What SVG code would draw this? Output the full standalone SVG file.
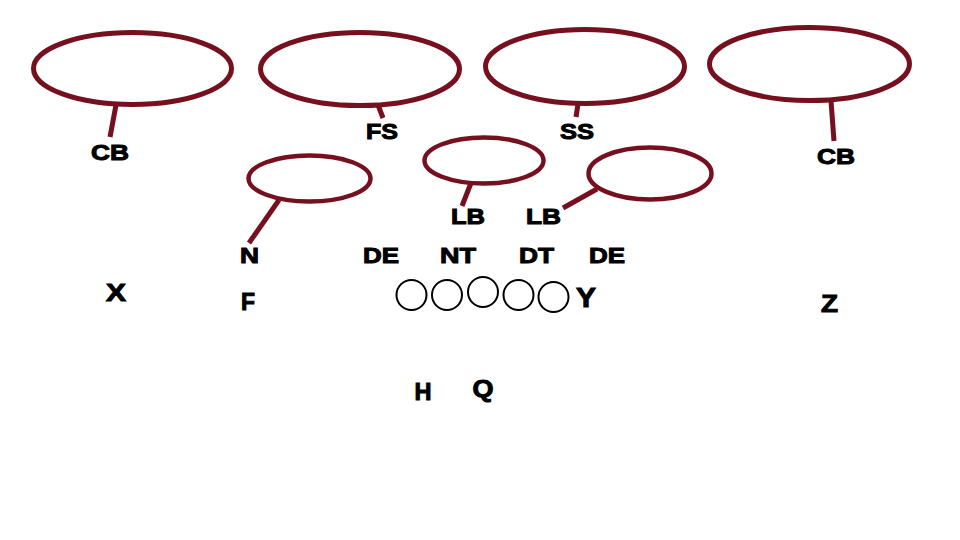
<svg xmlns="http://www.w3.org/2000/svg" width="960" height="540" viewBox="0 0 960 540">
<style>
.zone{fill:none;stroke:#76101f;stroke-width:5}
.zs{fill:none;stroke:#76101f;stroke-width:4.5}
.conn{stroke:#76101f;stroke-width:5;stroke-linecap:butt;fill:none}
.ol{fill:none;stroke:#000;stroke-width:2}
.t{font-family:"Liberation Sans",Arial,sans-serif;font-weight:bold;fill:#000;stroke:#000;stroke-width:1;text-anchor:middle}
.s21{font-size:22px}
.s23{font-size:24px}
.s28{font-size:28px}
</style>
<rect width="960" height="540" fill="#fff"/>
<g id="connectors">
<line class="conn" x1="116" y1="105" x2="110" y2="137"/>
<line class="conn" x1="378" y1="105" x2="383" y2="118"/>
<line class="conn" x1="578" y1="104" x2="576" y2="117"/>
<line class="conn" x1="831" y1="101" x2="834" y2="141"/>
<line class="conn" x1="279" y1="200" x2="249" y2="243"/>
<line class="conn" x1="471" y1="183" x2="462" y2="206"/>
<line class="conn" x1="597" y1="189" x2="563" y2="208"/>
</g>
<g id="zone-cb-left"><ellipse class="zone" cx="132.5" cy="68.5" rx="99" ry="36"/></g>
<g id="zone-fs"><ellipse class="zone" cx="360" cy="69" rx="99.5" ry="36.5"/></g>
<g id="zone-ss"><ellipse class="zone" cx="585" cy="66.5" rx="99.5" ry="37"/></g>
<g id="zone-cb-right"><ellipse class="zone" cx="809.5" cy="64" rx="100" ry="36.5"/></g>
<g id="zone-n"><ellipse class="zs" cx="309.5" cy="178.5" rx="61" ry="23"/></g>
<g id="zone-lb1"><ellipse class="zs" cx="484" cy="160.5" rx="59.5" ry="23"/></g>
<g id="zone-lb2"><ellipse class="zs" cx="650" cy="173.5" rx="61.5" ry="26"/></g>
<g id="cb-left"><text class="t s21" x="110" y="160" textLength="38" lengthAdjust="spacingAndGlyphs">CB</text></g>
<g id="fs"><text class="t s21" x="382" y="139" textLength="32" lengthAdjust="spacingAndGlyphs">FS</text></g>
<g id="ss"><text class="t s21" x="577" y="139" textLength="34" lengthAdjust="spacingAndGlyphs">SS</text></g>
<g id="cb-right"><text class="t s21" x="836" y="164" textLength="38" lengthAdjust="spacingAndGlyphs">CB</text></g>
<g id="lb1"><text class="t s21" x="468" y="224" textLength="34" lengthAdjust="spacingAndGlyphs">LB</text></g>
<g id="lb2"><text class="t s21" x="543.5" y="224" textLength="35" lengthAdjust="spacingAndGlyphs">LB</text></g>
<g id="n"><text class="t s21" x="249.5" y="263" textLength="19" lengthAdjust="spacingAndGlyphs">N</text></g>
<g id="de-left"><text class="t s21" x="381" y="263" textLength="36" lengthAdjust="spacingAndGlyphs">DE</text></g>
<g id="nt"><text class="t s21" x="458" y="263" textLength="36" lengthAdjust="spacingAndGlyphs">NT</text></g>
<g id="dt"><text class="t s21" x="536.5" y="263" textLength="35" lengthAdjust="spacingAndGlyphs">DT</text></g>
<g id="de-right"><text class="t s21" x="607" y="263" textLength="36" lengthAdjust="spacingAndGlyphs">DE</text></g>
<g id="x"><text class="t s23" x="116" y="301" textLength="20" lengthAdjust="spacingAndGlyphs">X</text></g>
<g id="f"><text class="t s23" x="248" y="310" textLength="14" lengthAdjust="spacingAndGlyphs">F</text></g>
<g id="ol1"><circle class="ol" cx="411.5" cy="295" r="15"/></g>
<g id="ol2"><circle class="ol" cx="447" cy="295" r="15"/></g>
<g id="ol3"><circle class="ol" cx="483" cy="292" r="15"/></g>
<g id="ol4"><circle class="ol" cx="518.5" cy="295" r="15"/></g>
<g id="ol5"><circle class="ol" cx="553.5" cy="297" r="15"/></g>
<g id="y"><text class="t s28" x="586" y="307" textLength="20" lengthAdjust="spacingAndGlyphs">Y</text></g>
<g id="z"><text class="t s23" x="829.5" y="312" textLength="17" lengthAdjust="spacingAndGlyphs">Z</text></g>
<g id="h"><text class="t s23" x="423" y="400" textLength="17" lengthAdjust="spacingAndGlyphs">H</text></g>
<g id="q"><text class="t s23" x="483" y="397" textLength="21" lengthAdjust="spacingAndGlyphs">Q</text></g>
</svg>
